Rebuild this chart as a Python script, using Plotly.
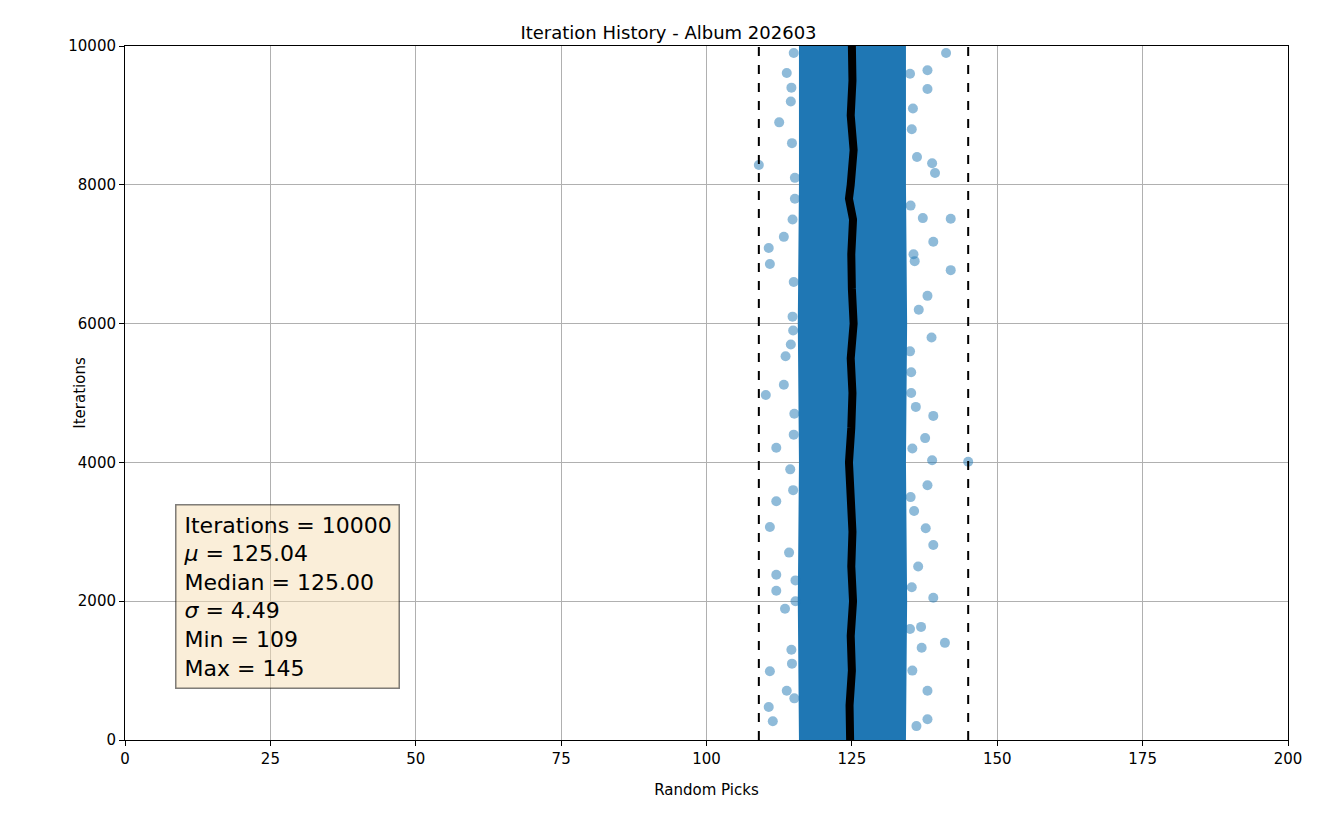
import plotly.graph_objects as go

# ---------------- data ----------------
# dense core of the picks (left / right edge of the solid band per iteration level)
band_iter = [0, 2000, 4000, 6000, 8000, 10000]
band_left = [115.9, 115.7, 115.9, 115.7, 115.9, 115.9]
band_right = [134.3, 134.5, 134.3, 134.5, 134.3, 134.3]

# scattered picks outside the dense core (value, iteration)
out_x = [109, 110.2, 110.7, 110.9, 110.9, 110.9, 110.7, 112, 112, 112, 112, 111.4,
         113.3, 113.6, 113.3, 113.5, 113.8, 113.8, 112.5, 114.5, 114.8, 115.0, 114.2,
         114.6, 115.2, 114.9, 114.4, 115.1, 114.7, 115.3,
         115.0, 114.6, 115.2, 114.8, 115.0, 114.5, 115.1, 114.9, 115.3, 114.7,
         145, 141.2, 142, 142, 141, 139, 138, 138, 138.8, 139.3, 139, 139, 139, 138.8,
         138, 138.7, 137.6, 138, 138, 138, 137.7, 137.2, 136.9, 137,
         135.5, 136.2, 135.8, 136.5, 135.2, 136.0, 135.7, 136.4, 135.4, 136.1,
         135.0, 135.3, 135.1, 135.6, 135.0, 135.2, 135.4, 135.1, 135.3, 135.0]
out_y = [8285, 4970, 7090, 6860, 3070, 990, 475, 3440, 2380, 2150, 4210, 270,
         7250, 5530, 5120, 1890, 710, 9610, 8900, 9200, 6100, 4400, 2700,
         1300, 7800, 5900, 3900, 600, 8600, 2000,
         9900, 9400, 8100, 7500, 6600, 5700, 4700, 3600, 2300, 1100,
         4010, 9900, 7510, 6770, 1400, 7180, 9650, 9380, 8310, 8170, 4670, 2810, 2050, 4030,
         3670, 5800, 4350, 6400, 710, 300, 3050, 7520, 1630, 1330,
         9100, 8400, 6900, 6200, 5300, 4800, 3300, 2500, 1000, 200,
         9600, 8800, 7700, 7000, 5600, 5000, 4200, 3500, 2200, 1600]

# running mean of the picks
mean_iter = [0, 500, 1000, 1500, 2000, 2500, 3000, 3500, 4000, 4500, 5000,
             5500, 6000, 6500, 7000, 7500, 7800, 8000, 8500, 9000, 9500, 10000]
mean_val = [124.7, 124.6, 125.0, 124.8, 125.2, 124.9, 125.1, 124.7, 124.5, 124.9, 125.1,
            124.8, 125.3, 125.0, 124.9, 125.2, 124.5, 124.8, 125.3, 124.8, 125.1, 125.0]

pick_min, pick_max = 109, 145
x_ticks = [0, 25, 50, 75, 100, 125, 150, 175, 200]
y_ticks = [0, 2000, 4000, 6000, 8000, 10000]

blue = "#1f77b4"

fig = go.Figure()

# solid band of picks
fig.add_trace(go.Scatter(x=band_left + band_right[::-1], y=band_iter + band_iter[::-1],
                         fill="toself", fillcolor=blue, line=dict(color=blue, width=0),
                         mode="lines", hoverinfo="skip"))
# outlying picks
fig.add_trace(go.Scatter(x=out_x, y=out_y, mode="markers",
                         marker=dict(color=blue, opacity=0.5, size=10)))
# running mean
fig.add_trace(go.Scatter(x=mean_val, y=mean_iter, mode="lines",
                         line=dict(color="black", width=8)))
# min / max dashed lines
for v in [pick_min, pick_max]:
    fig.add_trace(go.Scatter(x=[v, v], y=[0, 10000], mode="lines",
                             line=dict(color="black", width=2, dash="dash")))

stats = ("Iterations = 10000<br><i>μ</i> = 125.04<br>Median = 125.00<br>"
         "<i>σ</i> = 4.49<br>Min = 109<br>Max = 145")
fig.add_annotation(x=0.043, y=0.34, xref="paper", yref="paper", text=stats,
                   showarrow=False, xanchor="left", yanchor="top", align="left",
                   font=dict(size=22, color="black"), bgcolor="rgba(245,222,179,0.5)",
                   bordercolor="rgba(0,0,0,0.5)", borderwidth=1.5, borderpad=7)

axis = dict(showline=True, linecolor="black", linewidth=1, mirror=True, ticks="outside",
            tickcolor="black", showgrid=True, gridcolor="#b0b0b0", gridwidth=1,
            zeroline=False, tickfont=dict(size=15), title_font=dict(size=15))
fig.update_layout(
    width=1321, height=817, template=None, showlegend=False,
    font=dict(family="DejaVu Sans", color="black"),
    title=dict(text="Iteration History - Album 202603", x=0.5, xanchor="center",
               y=0.97, yref="container", yanchor="middle", font=dict(size=18)),
    margin=dict(l=117, r=41, t=38, b=85),
    plot_bgcolor="white", paper_bgcolor="white",
    xaxis=dict(axis, range=[0, 200], tickvals=x_ticks, title_text="Random Picks"),
    yaxis=dict(axis, range=[0, 10000], tickvals=y_ticks,
               ticktext=[str(t) for t in y_ticks], title_text="Iterations"),
)

fig.write_html("out.html")
